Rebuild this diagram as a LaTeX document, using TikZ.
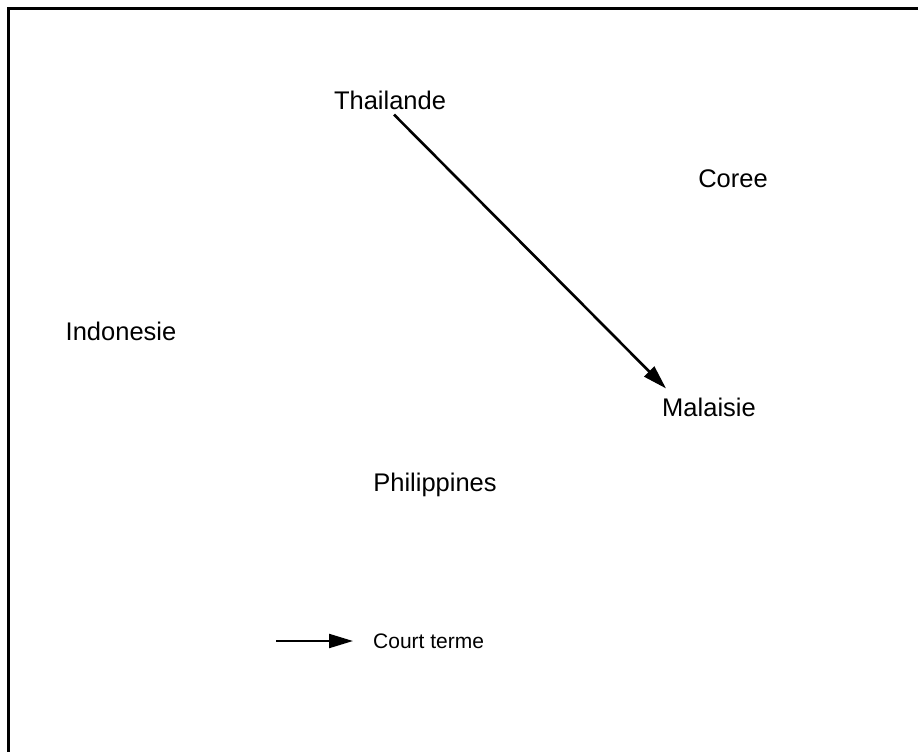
\documentclass[tikz,border=0pt]{standalone}
\usepackage{fontspec}
\setmainfont{Liberation Sans}
\usetikzlibrary{arrows.meta}
\tikzset{
  country/.style={inner sep=2pt, font=\fontsize{25.5}{30}\selectfont},
  legendtext/.style={inner sep=2pt, anchor=west, font=\fontsize{21}{25}\selectfont},
  move/.style={line width=2.6pt, -{Triangle[length=24pt,width=14pt]}}
}
\begin{document}
\begin{tikzpicture}[x=1pt,y=-1pt]
        % Page and frame
        \useasboundingbox (0,0) rectangle (918,752);
        \draw[line width=3pt] (8.5,753) -- (8.5,8.5) -- (919,8.5);

        % Countries
        \node[country] (thai) at (390,100) {Thailande};
        \node[country] (coree) at (733,179) {Coree};
        \node[country] (indo) at (121,331) {Indonesie};
        \node[country] (mal) at (709,407) {Malaisie};
        \node[country] (phil) at (435,485) {Philippines};

        % Short term move
        \draw[move] ([xshift=4pt,yshift=-3pt]thai.south) -- ([xshift=6pt,yshift=7pt]mal.north west);

        % Legend
        \node[legendtext] (court) at (371,641) {Court terme};
        \coordinate (legstart) at (276,641);
        \draw[move, line width=2.2pt] (legstart) -- ([xshift=-18pt]court.west);
\end{tikzpicture}
\end{document}
